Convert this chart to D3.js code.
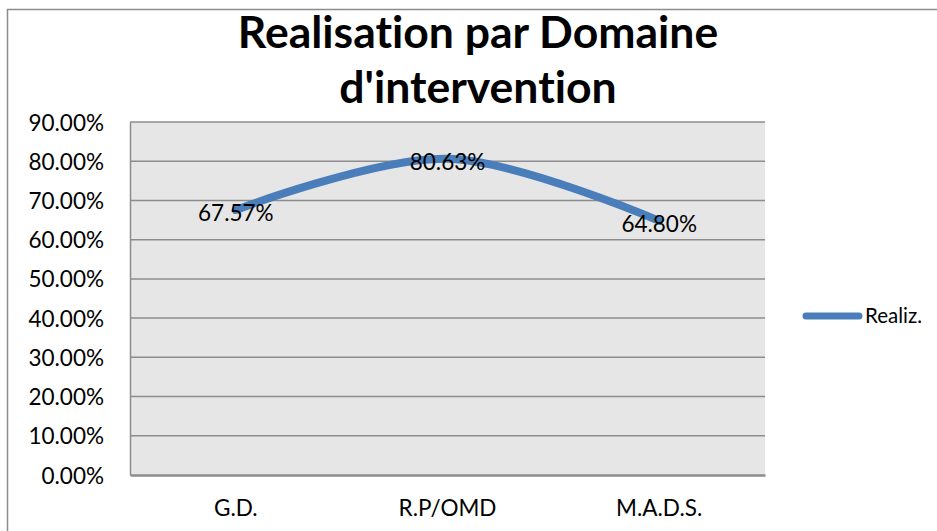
<!DOCTYPE html>
<html><head><meta charset="utf-8">
<script src="https://cdn.jsdelivr.net/npm/d3@7"></script>
<style>html,body{margin:0;padding:0;background:#fff;}svg{display:block;font-family:Lato,"Open Sans",sans-serif;font-variant-ligatures:none;}</style>
</head><body>
<script>
const categories = ["G.D.", "R.P/OMD", "M.A.D.S."];
const values = [0.6757, 0.8063, 0.6480];
const valueLabels = ["67.57%", "80.63%", "64.80%"];
const yTicks = [0, 0.1, 0.2, 0.3, 0.4, 0.5, 0.6, 0.7, 0.8, 0.9];
const seriesName = "Realiz.";
const titleLines = ["Realisation par Domaine", "d'intervention"];

(function () {
const W = 937, H = 531;
const svg = d3.select("body").append("svg").attr("width", W).attr("height", H);

// chart border
svg.append("rect").attr("x", 7.5).attr("y", 9.5).attr("width", 1000).attr("height", 600)
  .attr("fill", "#fff").attr("stroke", "#8c8c8c").attr("stroke-width", 1.5);

const pL = 130, pR = 765, pT = 122, pB = 475;
const x = d3.scaleBand().domain(categories).range([pL, pR]).padding(0);
const y = d3.scaleLinear().domain([0, 0.9]).range([pB, pT]);

svg.append("rect").attr("x", pL).attr("y", pT).attr("width", pR - pL).attr("height", pB - pT).attr("fill", "#e6e6e6");

// gridlines
svg.append("g").selectAll("line").data(yTicks.filter(d => d > 0)).join("line")
  .attr("x1", pL).attr("x2", pR).attr("y1", d => y(d)).attr("y2", d => y(d))
  .attr("stroke", "#8c8c8c").attr("stroke-width", 1.5);

// y axis
const yAxis = svg.append("g").attr("transform", `translate(${pL},0)`)
  .call(d3.axisLeft(y).tickValues(yTicks).tickFormat(d3.format(".2%")).tickSize(0).tickPadding(26));
yAxis.select(".domain").attr("stroke", "#8c8c8c").attr("stroke-width", 1.5);
yAxis.selectAll("text").attr("font-size", 22.5).attr("fill", "#000").attr("font-family", "Lato").attr("dy", "0.36em");

// x axis
const xAxis = svg.append("g").attr("transform", `translate(0,${pB})`)
  .call(d3.axisBottom(x).tickSize(0).tickPadding(25));
xAxis.select(".domain").attr("stroke", "#8c8c8c").attr("stroke-width", 2.5);
xAxis.selectAll("text").attr("font-size", 22.5).attr("fill", "#000").attr("font-family", "Lato");

// line
const line = d3.line().x((d, i) => x(categories[i]) + x.bandwidth() / 2).y(d => y(d))
  .curve(d3.curveCardinal.tension(0));
svg.append("path").datum(values).attr("d", line).attr("fill", "none")
  .attr("stroke", "#4a7ebb").attr("stroke-width", 8).attr("stroke-linecap", "round");

// data labels
svg.append("g").selectAll("text").data(values).join("text")
  .attr("x", (d, i) => x(categories[i]) + x.bandwidth() / 2)
  .attr("y", d => y(d) + 3).attr("dy", "0.36em")
  .attr("text-anchor", "middle").attr("font-size", 22.5).attr("fill", "#000")
  .text((d, i) => valueLabels[i]);

// legend
svg.append("line").attr("x1", 806).attr("x2", 859).attr("y1", 316).attr("y2", 316)
  .attr("stroke", "#4a7ebb").attr("stroke-width", 7).attr("stroke-linecap", "round");
svg.append("text").attr("x", 865).attr("y", 316).attr("dy", "0.36em").attr("font-size", 20.5).attr("fill", "#000").text(seriesName);

// title
svg.append("g").selectAll("text").data(titleLines).join("text")
  .attr("x", 478).attr("y", (d, i) => 48 + i * 55)
  .attr("text-anchor", "middle").attr("font-weight", "bold").attr("font-size", 44.5).attr("fill", "#000")
  .text(d => d);
})();
</script>
</body></html>
